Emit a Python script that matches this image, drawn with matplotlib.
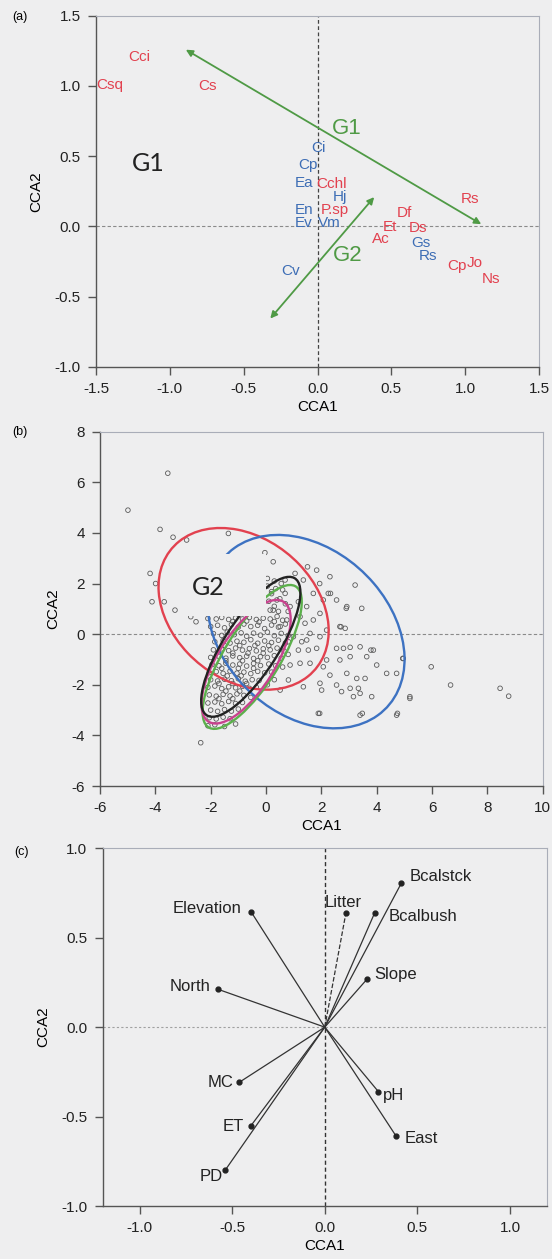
import matplotlib
matplotlib.use('Agg')
import matplotlib.pyplot as plt
from matplotlib.patches import Ellipse, Rectangle

plt.rcParams['font.family'] = ['Liberation Sans', 'DejaVu Sans']
plt.rcParams['axes.unicode_minus'] = False

RED = '#e2414f'
BLUE = '#3d6db5'
GREEN = '#4f9a45'

# ---- (a) species scores
sp_names = ['Cci', 'Csq', 'Cs', 'Ci', 'Cp', 'Ea', 'Cchl', 'Hj', 'En', 'P.sp', 'Ev', 'Vm',
            'Df', 'Et', 'Ds', 'Ac', 'Gs', 'Rs', 'Rs', 'Cp', 'Jo', 'Ns', 'Cv']
sp_x = [-1.207, -1.405, -0.747, 0.003, -0.062, -0.092, 0.098, 0.152, -0.094, 0.12, -0.092, 0.077,
        0.59, 0.49, 0.68, 0.43, 0.70, 0.745, 1.035, 0.945, 1.068, 1.175, -0.185]
sp_y = [1.208, 1.003, 1.0, 0.555, 0.435, 0.308, 0.303, 0.21, 0.116, 0.116, 0.02, 0.026,
        0.096, -0.006, -0.012, -0.092, -0.119, -0.21, 0.195, -0.28, -0.264, -0.378, -0.32]
sp_group = ['r', 'r', 'r', 'b', 'b', 'b', 'r', 'b', 'b', 'r', 'b', 'b',
            'r', 'r', 'r', 'r', 'b', 'b', 'r', 'r', 'r', 'r', 'b']
g1_arrow = [(-0.908, 1.268), (1.125, 0.005)]
g2_arrow = [(-0.332, -0.672), (0.396, 0.223)]

# ---- (b) site scores and group ellipses
pts_x = [-3.55, -4.99, -3.83, -3.36, -2.87, -1.36, -0.04, 0.26, -4.19, -3.99, -4.12, -3.68, -3.29,
         -2.72, -2.53, 5.97, 6.67, 8.46, 8.77, 5.2, 4.75, 1.94, 3.48, -2.36, 4.94, 3.79, 2.71,
         2.33, 2.9, 1.5, 1.05, 1.94,
         2.31, 2.92, 3.46, 3.22, 2.25, 2.07, 2.55, 2.67, 2.86, 1.71, 1.95, 1.47, 1.17, 1.53, 1.83,
         2.55, 2.80, 3.04, 3.40, 3.88, 3.64, 3.04, 2.19, 2.67, 0.87, 1.23, 1.59, 2.07, 4.00, 4.36,
         4.72, 2.31, 2.92, 3.28, 3.58, 1.95, 2.55, 2.73, 3.04, 3.34, 3.40, 3.82, 3.16, 2.01, 1.35,
         0.81, 0.51, 1.89, 3.40, 4.72, 5.20, 4.96, 0.99, 0.81, 1.29, 0.51, 0.75, 1.59, 2.19, 1.95,
         0.26, 0.39, 0.20, 1.47, 1.71, 1.35, 1.83, 1.17, 1.41, 0.87, 0.69, 0.69, 1.23,
         -2.1, -1.8, -1.6, -1.35, -1.1, -0.85, -0.6, -0.35, -0.1, 0.15, 0.4, 0.6,
         0.05, 0.2, 0.35, 0.1, 0.3, 0.5, 0.15, 0.45, 0.7, 0.6, 0.3, 0.8, 0.05, 0.55,
         -2.0, -1.75, -1.5, -1.25, -1.0, -0.8, -0.55, -0.3, -0.05, 0.2, 0.45, 0.7,
         -1.9, -1.6, -1.4, -1.15, -0.9, -0.7, -0.45, -0.2, 0.05, 0.3, 0.55, 0.8,
         -1.85, -1.55, -1.3, -1.05, -0.8, -0.55, -0.3, -0.05, 0.2, 0.45, 0.7,
         -1.9, -1.6, -1.35, -1.1, -0.85, -0.6, -0.35, -0.1, 0.15, 0.4, 0.65,
         -2.0, -1.7, -1.45, -1.2, -0.95, -0.7, -0.45, -0.2, 0.05, 0.3, 0.55,
         -1.95, -1.7, -1.45, -1.2, -0.95, -0.7, -0.45, -0.2, 0.1, 0.35,
         -2.05, -1.8, -1.55, -1.3, -1.05, -0.8, -0.55, -0.3, -0.05, 0.2,
         -2.0, -1.75, -1.5, -1.25, -1.0, -0.75, -0.5, -0.25,
         -2.1, -1.85, -1.6, -1.35, -1.1, -0.85, -0.6, -0.35,
         -2.05, -1.8, -1.55, -1.3, -1.05, -0.8, -0.55,
         -2.1, -1.85, -1.6, -1.35, -1.1, -0.85,
         -2.0, -1.75, -1.5, -1.25, -1.0,
         -2.05, -1.8, -1.55, -1.3,
         -2.1, -1.85, -1.5, -1.1,
         -1.2, -0.7, -0.25, 0.3, -1.5, -0.95, -0.4, 0.1, -1.2, -0.65, -0.1, -1.45, -0.85, -0.3,
         -1.6, -1.0, -0.45, -1.4, -0.9, -1.7, -1.2, -0.7, -1.45, -0.95, -1.7, -1.2, 0.05, 0.3,
         0.6, 0.8]
pts_y = [6.36, 4.9, 4.14, 3.83, 3.72, 3.98, 3.22, 2.86, 2.40, 2.0, 1.28, 1.28, 0.95,
         0.69, 0.49, -1.29, -2.01, -2.14, -2.45, -2.47, -3.13, -3.13, -3.13, -4.29, -0.96, -0.63, 0.29,
         1.61, 1.02, 2.66, 2.4, 2.0,
         2.27, 1.09, 1.02, 1.94, 1.61, 1.35, 1.35, 0.30, 0.23, 0.56, 0.82, -0.23, -0.63, -0.63, -0.56,
         -0.56, -0.56, -0.52, -0.50, -0.63, -0.89, -0.89, -1.02, -1.02, -1.22, -1.15, -1.15, -1.29, -1.22, -1.55,
         -1.55, -1.62, -1.55, -1.75, -1.75, -1.94, -2.01, -2.27, -2.14, -2.14, -2.34, -2.47, -2.47, -2.21, -2.08,
         -1.81, -2.21, -3.13, -3.20, -3.20, -2.54, -0.96, -0.10, -0.30, -0.30, 0.30, 0.56, 0.03, 0.16, -0.10,
         0.95, 1.35, 1.68, 1.09, 1.61, 2.14, 2.53, 1.28, 0.43, 1.09, 1.61, 2.14, 0.69,
         0.62, 0.6, 0.66, 0.58, 0.64, 0.6, 0.66, 0.58, 0.63, 0.6, 0.7, 0.55,
         1.9, 1.6, 1.8, 1.3, 1.1, 1.4, 0.95, 0.9, 1.2, 1.75, 2.1, 0.9, 2.2, 2.0,
         0.3, 0.35, 0.25, 0.38, 0.28, 0.4, 0.3, 0.35, 0.22, 0.36, 0.28, 0.4,
         0.02, -0.05, 0.08, -0.02, 0.05, -0.08, 0.04, -0.04, 0.08, -0.06, 0.03, -0.05,
         -0.3, -0.25, -0.35, -0.28, -0.32, -0.22, -0.36, -0.27, -0.33, -0.24, -0.35,
         -0.62, -0.58, -0.65, -0.55, -0.63, -0.57, -0.66, -0.58, -0.62, -0.55, -0.66,
         -0.92, -0.88, -0.95, -0.86, -0.93, -0.87, -0.96, -0.89, -0.92, -0.85, -0.95,
         -1.2, -1.25, -1.15, -1.22, -1.18, -1.26, -1.16, -1.24, -1.18, -1.25,
         -1.52, -1.48, -1.55, -1.46, -1.54, -1.5, -1.56, -1.47, -1.53, -1.5,
         -1.8, -1.85, -1.78, -1.84, -1.76, -1.86, -1.8, -1.83,
         -2.1, -2.05, -2.15, -2.08, -2.12, -2.06, -2.14, -2.1,
         -2.4, -2.45, -2.38, -2.44, -2.36, -2.42, -2.5,
         -2.72, -2.68, -2.75, -2.66, -2.74, -2.7,
         -3.0, -3.05, -2.98, -3.04, -2.96,
         -3.3, -3.35, -3.28, -3.34,
         -3.62, -3.58, -3.65, -3.55,
         0.5, 0.52, 0.48, 0.5, -0.45, -0.45, -0.45, -0.45, -0.75, -0.75, -0.75, -1.05, -1.05, -1.05,
         -1.35, -1.35, -1.35, -1.65, -1.65, -1.95, -1.95, -1.95, -2.25, -2.25, -2.55, -2.55, -2.0, -1.8,
         -1.3, -0.8]

ell_colors = ['#e2414f', '#3d72c2', '#5cb04c', '#c8428e', '#222222']
ell_cx = [-0.81, 1.45, -0.5, -0.72, -0.55]
ell_cy = [1.0, 0.1, -0.9, -1.09, -0.5]
ell_w = [7.08, 8.4, 6.4, 5.46, 6.28]
ell_h = [5.34, 6.2, 2.05, 2.1, 2.0]
ell_ang = [-49, -52, 61, 61, 60]

# ---- (c) environmental vectors
env_names = ['Bcalstck', 'Bcalbush', 'Litter', 'Elevation', 'Slope', 'North', 'MC', 'ET', 'PD', 'pH', 'East']
env_x = [0.413, 0.270, 0.114, -0.396, 0.229, -0.577, -0.461, -0.40, -0.537, 0.290, 0.385]
env_y = [0.804, 0.640, 0.637, 0.642, 0.269, 0.212, -0.308, -0.553, -0.799, -0.361, -0.609]
env_off = {'Bcalstck': (6, 5, 'left'), 'Bcalbush': (10, -3, 'left'), 'Litter': (-2, 8, 'center'),
           'Elevation': (-7, 3, 'right'), 'Slope': (5, 3, 'left'), 'North': (-5, 2, 'right'),
           'MC': (-4, 0, 'right'), 'ET': (-5, 0, 'right'), 'PD': (-2, -5, 'right'),
           'pH': (3, -3, 'left'), 'East': (6, -2, 'left')}

BG = '#eeeeef'


def style(ax):
    for s in ['top', 'right']:
        ax.spines[s].set_color('#a9adb8')
        ax.spines[s].set_linewidth(0.8)
    for s in ['left', 'bottom']:
        ax.spines[s].set_color('#555555')
        ax.spines[s].set_linewidth(1.0)
    ax.tick_params(direction='out', length=6, width=1, pad=5, colors='#555555',
                   labelcolor='#222222', labelsize=11)
    ax.set_facecolor('none')
    ax.set_xlabel('CCA1', fontsize=11, labelpad=3)
    ax.set_ylabel('CCA2', fontsize=11, labelpad=8)


fig = plt.figure(figsize=(5.52, 12.59), dpi=100, facecolor=BG)
W, H = 552, 1259

# (a)
ax = fig.add_axes([96 / W, 1 - 366.7 / H, 443 / W, 351 / H])
style(ax)
ax.set_xlim(-1.5, 1.5)
ax.set_ylim(-1.0, 1.5)
ax.set_xticks([-1.5, -1.0, -0.5, 0.0, 0.5, 1.0, 1.5])
ax.set_yticks([-1.0, -0.5, 0.0, 0.5, 1.0, 1.5])
ax.xaxis.set_major_formatter('{x:.1f}')
ax.yaxis.set_major_formatter('{x:.1f}')
ax.axvline(0, ls=(0, (3, 2)), color='#444444', lw=0.9)
ax.axhline(0, ls=(0, (3, 2)), color='#8a8a8a', lw=0.8)
for n, x, y, g in zip(sp_names, sp_x, sp_y, sp_group):
    ax.text(x, y, n, color=RED if g == 'r' else BLUE, ha='center', va='center', fontsize=11)
for arr in [g1_arrow, g2_arrow]:
    ax.annotate('', xy=arr[1], xytext=arr[0],
                arrowprops=dict(arrowstyle='<|-|>', color=GREEN, lw=1.3, mutation_scale=10))
ax.text(0.195, 0.70, 'G1', color=GREEN, fontsize=16, ha='center', va='center')
ax.text(0.205, -0.21, 'G2', color=GREEN, fontsize=16, ha='center', va='center')
ax.text(-1.146, 0.449, 'G1', color='#222222', fontsize=18, ha='center', va='center', family=['Lato'])
fig.text(12 / W, 1 - 17 / H, '(a)', fontsize=9, va='center')

# (b)
ax = fig.add_axes([100 / W, 1 - 786 / H, 442.7 / W, 354.3 / H])
style(ax)
ax.set_xlim(-6, 10)
ax.set_ylim(-6, 8)
ax.set_xticks(range(-6, 11, 2))
ax.set_yticks(range(-6, 9, 2))
ax.axhline(0, ls=(0, (3, 2)), color='#8a8a8a', lw=0.8)
ax.scatter(pts_x, pts_y, s=11, facecolors='none', edgecolors='#5a5a5a', linewidths=0.6, zorder=2)
for c, cx, cy, w, h, a in zip(ell_colors, ell_cx, ell_cy, ell_w, ell_h, ell_ang):
    ax.add_patch(Ellipse((cx, cy), w, h, angle=a, fill=False, edgecolor=c, lw=1.7, zorder=3))
ax.add_patch(Rectangle((-3.0, 0.72), 3.0, 2.45, facecolor=BG, edgecolor='none', zorder=4))
ax.text(-2.08, 1.84, 'G2', color='#222222', fontsize=18, ha='center', va='center', family=['Lato'], zorder=5)
fig.text(12 / W, 1 - 432 / H, '(b)', fontsize=9, va='center')

# (c)
ax = fig.add_axes([102.5 / W, 1 - 1206 / H, 444.5 / W, 357.7 / H])
style(ax)
ax.set_xlim(-1.2, 1.2)
ax.set_ylim(-1.0, 1.0)
ax.set_xticks([-1.0, -0.5, 0.0, 0.5, 1.0])
ax.set_yticks([-1.0, -0.5, 0.0, 0.5, 1.0])
ax.xaxis.set_major_formatter('{x:.1f}')
ax.yaxis.set_major_formatter('{x:.1f}')
ax.axvline(0, ls=(0, (3, 2)), color='#333333', lw=1.0)
ax.axhline(0, ls=(0, (2, 2)), color='#a0a0a0', lw=0.8)
for n, x, y in zip(env_names, env_x, env_y):
    ls = '--' if n == 'Litter' else '-'
    ax.plot([0, x], [0, y], color='#333333', lw=0.9, ls=ls)
    ax.plot(x, y, 'o', color='#222222', ms=3.5)
    dx, dy, ha = env_off[n]
    ax.annotate(n, (x, y), xytext=(dx, dy), textcoords='offset points', ha=ha, va='center',
                fontsize=12, color='#222222')
fig.text(14 / W, 1 - 852 / H, '(c)', fontsize=9, va='center')

fig.savefig('out.png', dpi=100, facecolor=fig.get_facecolor())
